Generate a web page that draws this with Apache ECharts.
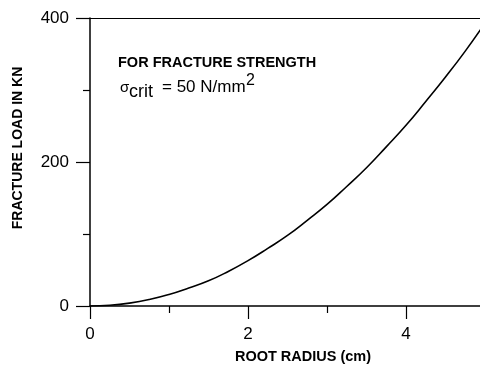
<!DOCTYPE html>
<html><head><meta charset="utf-8">
<script src="https://cdn.jsdelivr.net/npm/echarts@6/dist/echarts.min.js"></script>
<style>html,body{margin:0;padding:0;background:#fff}#c{width:480px;height:365px}</style>
</head><body><div id="c"></div>
<script>
const radius = [0, 0.25, 0.5, 0.75, 1, 1.25, 1.5, 1.75, 2, 2.25, 2.5, 2.75, 3, 3.25, 3.5, 3.75, 4, 4.25, 4.5, 4.75, 5];
const load   = [0, 1, 4, 9, 16, 25, 35, 48, 63, 80, 98, 119, 141, 166, 192, 221, 251, 284, 318, 354, 393];
const xTicks = [0, 2, 4];
const yTicks = [0, 200, 400];

const font = 'Liberation Sans, Arial, sans-serif';
const chart = echarts.init(document.getElementById('c'));
chart.setOption({
  backgroundColor: '#fff',
  animation: false,
  grid: { left: 90, top: 18, width: 395, height: 288, outerBoundsMode: 'none', containLabel: false },
  xAxis: [{
    type: 'value', min: 0, max: 5, interval: 2,
    axisLine: { show: true, lineStyle: { color: '#000', width: 1.5 } },
    axisTick: { show: true, length: 13, lineStyle: { color: '#000', width: 1.2 } },
    minorTick: { show: true, splitNumber: 2, length: 7, lineStyle: { color: '#000', width: 1.2 } },
    axisLabel: { color: '#000', fontSize: 17, fontFamily: font, margin: 20,
      formatter: v => xTicks.includes(v) ? String(v) : '' },
    splitLine: { show: false }
  }, {
    type: 'value', position: 'top', min: 0, max: 5,
    axisLine: { show: true, onZero: false, lineStyle: { color: '#000', width: 1.2 } },
    axisTick: { show: false }, axisLabel: { show: false }, splitLine: { show: false }
  }],
  yAxis: {
    type: 'value', min: 0, max: 400, interval: 200,
    axisLine: { show: true, lineStyle: { color: '#000', width: 1.5 } },
    axisTick: { show: true, length: 14, lineStyle: { color: '#000', width: 1.2 } },
    minorTick: { show: true, splitNumber: 2, length: 7, lineStyle: { color: '#000', width: 1.2 } },
    axisLabel: { color: '#000', fontSize: 17, fontFamily: font, margin: 21,
      formatter: v => yTicks.includes(v) ? String(v) : '' },
    splitLine: { show: false }
  },
  series: [{
    type: 'line', smooth: true, showSymbol: false,
    data: radius.map((r, i) => [r, load[i]]),
    lineStyle: { color: '#000', width: 1.6 }
  }],
  graphic: [
    { type: 'text', x: 18, y: 148, rotation: Math.PI / 2,
      style: { text: 'FRACTURE LOAD IN KN', fill: '#000', font: 'bold 14px ' + font,
        align: 'center', verticalAlign: 'middle' } },
    { type: 'text', x: 303, y: 357,
      style: { text: 'ROOT RADIUS (cm)', fill: '#000', font: 'bold 14.5px ' + font,
        align: 'center', verticalAlign: 'middle' } },
    { type: 'text', x: 118, y: 63,
      style: { text: 'FOR FRACTURE STRENGTH', fill: '#000', font: 'bold 14.5px ' + font,
        align: 'left', verticalAlign: 'middle' } },
    { type: 'text', x: 120, y: 88,
      style: { text: 'σ', fill: '#000', font: '15px ' + font, align: 'left', verticalAlign: 'middle' } },
    { type: 'text', x: 129, y: 92,
      style: { text: 'crit', fill: '#000', font: '18px ' + font, align: 'left', verticalAlign: 'middle' } },
    { type: 'text', x: 162, y: 87,
      style: { text: '= 50 N/mm', fill: '#000', font: '17px ' + font, align: 'left', verticalAlign: 'middle' } },
    { type: 'text', x: 246, y: 81,
      style: { text: '2', fill: '#000', font: '16px ' + font, align: 'left', verticalAlign: 'middle' } }
  ]
});
</script></body></html>
